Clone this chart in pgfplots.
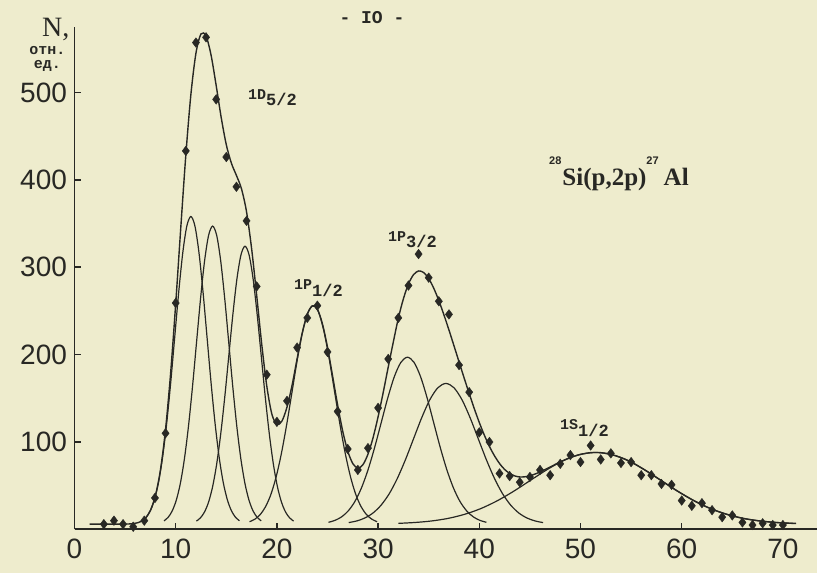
\documentclass[border=0pt]{standalone}
\usepackage{pgfplots}
\pgfplotsset{compat=1.18}
\usepackage{fontspec}
\setmainfont{Liberation Sans}
\newfontfamily\monof{Liberation Mono}
\newfontfamily\seriff{Liberation Serif}
\definecolor{ink}{RGB}{40,40,36}
\definecolor{paper}{RGB}{238,236,205}
\begin{document}
\begin{tikzpicture}[x=1pt,y=1pt]
\fill[paper] (0,0) rectangle (817,573);
\useasboundingbox (0,0) rectangle (817,573);
\begin{axis}[
 at={(74.5pt,43.6pt)}, anchor=south west,
 scale only axis, width=742.5pt, height=502.4pt,
 xmin=0, xmax=73.37, ymin=0, ymax=574.8,
 axis x line=bottom, axis y line=left,
 axis line style={-, line width=1.8pt, ink},
 x axis line style={-}, y axis line style={-},
 xtick={0,10,...,70}, ytick={100,200,...,500},
 tick align=inside, major tick length=6pt,
 tick style={line width=1.5pt, ink},
 ticklabel style={font=\fontsize{28}{28}\selectfont, text=ink},
 /pgf/number format/assume math mode=true,
 xticklabel style={yshift=-6pt},
 yticklabel style={xshift=-4pt},
 clip=false,
]
% total fit
\addplot[ink, line width=1.4pt, smooth] coordinates {
(1.5,6) (3,6) (4,6) (5,6.1) (5.5,6.3) (6,7.0) (6.5,8.7) (7,12.8) (7.5,21.7) (8,38.9) (8.5,68.6) (9,114.8) (9.5,179) (10,258.1) (10.5,344.8) (11,428.1) (11.5,497.5) (12,544.8) (12.5,566.9) (13,564.4) (13.5,542.3) (14,507.8) (14.5,471.0) (15,440.1) (15.5,419.1) (16,405.0) (16.5,389.7) (17,363.4) (17.5,321.4) (18,268) (18.5,212) (19,164) (19.5,132) (20,120) (20.5,124) (21,140) (21.5,165) (22,195.5) (22.5,224.5) (23,246.0) (23.5,255.7) (24,252.0) (24.5,235.1) (25,208.3) (25.5,175.7) (26,142.4) (26.5,112.6) (27,89.6) (27.5,75.3) (28,70.2) (28.5,74.0) (29,86.1) (29.5,104.8) (30,128.9) (30.5,156.4) (31,185.7) (31.5,214.2) (32,241.6) (32.5,263.8) (33,280.8) (33.5,291.4) (34,295.7) (34.5,293.9) (35,286.9) (35.5,275.9) (36,261.8) (36.5,245.6) (37,228.2) (37.5,210.0) (38,191.6) (38.5,173.3) (39,155.5) (39.5,138.3) (40,122.3) (40.5,107.8) (41,95.0) (41.5,84.2) (42,75.4) (42.5,68.6) (43,64.1) (43.5,61.2) (44,60.0) (44.5,60.2) (45,61.3) (45.5,63.3) (46,65.7) (47,71.4) (48,77.2) (49,82.2) (50,85.8) (51,87.8) (52,87.8) (53,85.8) (54,82.2) (55,77.2) (56,70.5) (57,63.3) (58,55.7) (59,48.1) (60,40.9) (61,34.2) (62,28.2) (63,23.1) (64,18.9) (65,15.5) (66,12.8) (67,10.8) (68,9.3) (69,8.2) (70,7.4) (71,6.9) (71.3,6.8)
};
% components
\addplot[ink, line width=1.2pt, smooth] coordinates {
(6.7,9.9) (7.1,14.0) (7.5,21.5) (7.9,34.0) (8.3,53.6) (8.7,82.1) (9.1,120.3) (9.5,167.1) (9.9,219.5) (10.3,271.7) (10.7,316.6) (11.1,347.1) (11.5,358) (11.9,347.1) (12.3,316.6) (12.7,271.7) (13.1,219.5) (13.5,167.1) (13.9,120.3) (14.3,82.1) (14.7,53.6) (15.1,34.0) (15.5,21.5) (15.9,14.0) (16.3,9.9)
};
\addplot[ink, line width=1.2pt, smooth] coordinates {
(8.85,9.8) (9.25,13.8) (9.65,21.0) (10.05,33.1) (10.45,52.1) (10.85,79.8) (11.25,116.7) (11.65,162.1) (12.05,212.8) (12.45,263.4) (12.85,306.9) (13.25,336.4) (13.65,347) (14.05,336.4) (14.45,306.9) (14.85,263.4) (15.25,212.8) (15.65,162.1) (16.05,116.7) (16.45,79.8) (16.85,52.1) (17.25,33.1) (17.65,21.0) (18.05,13.8) (18.45,9.8)
};
\addplot[ink, line width=1.2pt, smooth] coordinates {
(12.05,9.5) (12.45,13.3) (12.85,20.0) (13.25,31.3) (13.65,49.0) (14.05,74.8) (14.45,109.3) (14.85,151.6) (15.25,198.9) (15.65,246.0) (16.05,286.6) (16.45,314.1) (16.85,324) (17.25,314.1) (17.65,286.6) (18.05,246.0) (18.45,198.9) (18.85,151.6) (19.25,109.3) (19.65,74.8) (20.05,49.0) (20.45,31.3) (20.85,20.0) (21.25,13.3) (21.65,9.5)
};
\addplot[ink, line width=1.2pt, smooth] coordinates {
(17.3,8.8) (17.825,11.7) (18.35,17.0) (18.875,25.9) (19.4,39.8) (19.925,60.1) (20.45,87.2) (20.975,120.5) (21.5,157.6) (22.025,194.7) (22.55,226.6) (23.075,248.3) (23.6,256) (24.125,248.3) (24.65,226.6) (25.175,194.7) (25.7,157.6) (26.225,120.5) (26.75,87.2) (27.275,60.1) (27.8,39.8) (28.325,25.9) (28.85,17.0) (29.375,11.7) (29.9,8.8)
};
\addplot[ink, line width=1.2pt, smooth] coordinates {
(25.1,8.1) (25.75,10.4) (26.4,14.4) (27.05,21.2) (27.7,31.8) (28.35,47.3) (29.0,68.0) (29.65,93.4) (30.3,121.8) (30.95,150.2) (31.6,174.6) (32.25,191.1) (32.9,197) (33.55,191.1) (34.2,174.6) (34.85,150.2) (35.5,121.8) (36.15,93.4) (36.8,68.0) (37.45,47.3) (38.1,31.8) (38.75,21.2) (39.4,14.4) (40.05,10.4) (40.7,8.1)
};
\addplot[ink, line width=1.2pt, smooth] coordinates {
(27.1,7.8) (27.9,9.7) (28.7,13.1) (29.5,18.8) (30.3,27.8) (31.1,40.8) (31.9,58.3) (32.7,79.7) (33.5,103.6) (34.3,127.5) (35.1,148.1) (35.9,162.0) (36.7,167) (37.5,162.0) (38.3,148.1) (39.1,127.5) (39.9,103.6) (40.7,79.7) (41.5,58.3) (42.3,40.8) (43.1,27.8) (43.9,18.8) (44.7,13.1) (45.5,9.7) (46.3,7.8)
};
\addplot[ink, line width=1.2pt, smooth] coordinates {
(32.0,6.9) (33.625,7.9) (35.25,9.6) (36.875,12.5) (38.5,17.1) (40.125,23.7) (41.75,32.6) (43.375,43.5) (45.0,55.7) (46.625,67.9) (48.25,78.4) (49.875,85.5) (51.5,88) (53.125,85.5) (54.75,78.4) (56.375,67.9) (58.0,55.7) (59.625,43.5) (61.25,32.6) (62.875,23.7) (64.5,17.1) (66.125,12.5) (67.75,9.6) (69.375,7.9) (71.0,6.9)
};
% experimental points
\addplot[only marks, mark=diamond*, mark size=4.8pt, ink, mark options={fill=ink}] coordinates {
(2.9,6) (3.9,10) (4.8,6) (5.8,3) (6.9,10) (7.95,36) (9,110) (10,259) (11,433) (12,557) (13,563) (14,492) (15,426) (16,392) (17,353) (18,278) (19,177) (20,123) (21,147) (22,208) (23,242) (24,256) (25,203) (26,135) (27,92) (28,68) (29,93) (30,139) (31,195) (32,242) (33,279) (34,315) (35,288) (36,261) (37,246) (38,188) (39,157) (40,111) (41,100) (42,64) (43,61) (44,54) (45,60) (46,68) (47,62) (48,75) (49,85) (50,77) (51,96) (52,80) (53,87) (54,76) (55,77) (56,62) (57,62) (58,52) (59,51) (60,33) (61,27) (62,30) (63,22) (64,14) (65,16) (66,8) (67,5) (68,7) (69,5) (70,5)
};
\end{axis}
% annotations (picture coordinates, 1pt = 1px, y from bottom)
\node[anchor=base west, inner sep=0, text=ink, font=\seriff\fontsize{28}{28}\selectfont] at (42,536) {N,};
\node[anchor=center, inner sep=0, text=ink, font=\monof\bfseries\fontsize{15}{15}\selectfont] at (47.5,522) {отн.};
\node[anchor=center, inner sep=0, text=ink, font=\monof\bfseries\fontsize{15}{15}\selectfont] at (47.5,507) {ед.};
\node[anchor=center, inner sep=0, text=ink, font=\monof\bfseries\fontsize{18}{18}\selectfont] at (372,555) {- IO -};
\node[anchor=base west, inner sep=0, text=ink, font=\monof\bfseries] at (248,473) {\fontsize{15}{15}\selectfont 1D\raisebox{-6pt}{\fontsize{17}{17}\selectfont 5/2}};
\node[anchor=base west, inner sep=0, text=ink, font=\monof\bfseries] at (294,283) {\fontsize{15}{15}\selectfont 1P\raisebox{-7pt}{\fontsize{17}{17}\selectfont 1/2}};
\node[anchor=base west, inner sep=0, text=ink, font=\monof\bfseries] at (388,331) {\fontsize{15}{15}\selectfont 1P\raisebox{-6pt}{\fontsize{17}{17}\selectfont 3/2}};
\node[anchor=base west, inner sep=0, text=ink, font=\monof\bfseries] at (560,143) {\fontsize{15}{15}\selectfont 1S\raisebox{-7pt}{\fontsize{17}{17}\selectfont 1/2}};
\node[anchor=base west, inner sep=0, text=ink] at (549,387) {\raisebox{21pt}{\bfseries\fontsize{11}{11}\selectfont 28}\hspace{1pt}{\seriff\bfseries\fontsize{25}{25}\selectfont Si(p,2p)}\raisebox{21pt}{\bfseries\fontsize{11}{11}\selectfont 27}\hspace{5pt}{\seriff\bfseries\fontsize{25}{25}\selectfont Al}};
\end{tikzpicture}
\end{document}
